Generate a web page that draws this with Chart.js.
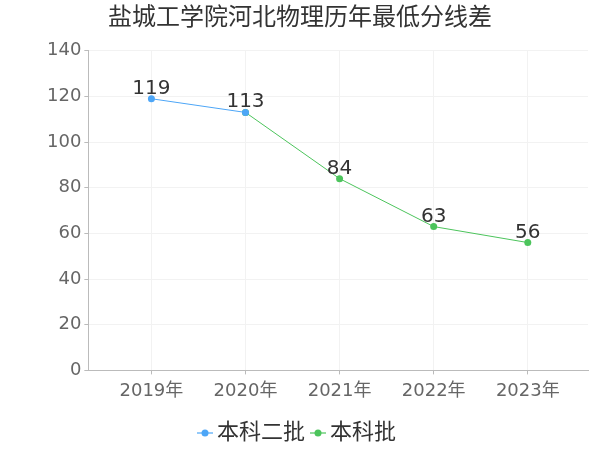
<!DOCTYPE html>
<html>
<head>
<meta charset="utf-8">
<script src="https://cdn.jsdelivr.net/npm/chart.js@4"></script>
<style>
  body { margin: 0; background: #fff; }
</style>
</head>
<body>
<canvas id="chart" width="600" height="450"></canvas>
<script>
const years = [2019, 2020, 2021, 2022, 2023];
const yearLabels = ["2019年", "2020年", "2021年", "2022年", "2023年"];
const batchTwo = [119, 113, null, null, null];   // 本科二批
const batchOne = [null, 113, 84, 63, 56];        // 本科批
const yTicks = [0, 20, 40, 60, 80, 100, 120, 140];

const blue = "#4da6f7";
const green = "#4cc45c";
const font = "'DejaVu Sans', 'Noto Sans CJK SC', sans-serif";

Chart.defaults.font.family = font;
Chart.defaults.color = "#666";

// legend marker: short line with a dot on it
function marker(color) {
  const c = document.createElement("canvas");
  c.width = 16;
  c.height = 8;
  const g = c.getContext("2d");
  g.strokeStyle = color;
  g.lineWidth = 2;
  g.globalAlpha = 0.6;
  g.beginPath();
  g.moveTo(0, 4);
  g.lineTo(16, 4);
  g.stroke();
  g.globalAlpha = 1;
  g.fillStyle = color;
  g.beginPath();
  g.arc(8, 4, 3.5, 0, Math.PI * 2);
  g.fill();
  return c;
}

const toPoints = (vals) =>
  vals.map((v, i) => ({ x: years[i], y: v })).filter((p) => p.y !== null);

// value labels above the points
const valueLabels = {
  id: "valueLabels",
  afterDatasetsDraw(chart) {
    const ctx = chart.ctx;
    const done = new Set();
    ctx.save();
    ctx.font = "20px " + font;
    ctx.fillStyle = "#333";
    ctx.textAlign = "center";
    ctx.textBaseline = "alphabetic";
    chart.data.datasets.forEach((ds, di) => {
      chart.getDatasetMeta(di).data.forEach((pt, i) => {
        const key = ds.data[i].x + ":" + ds.data[i].y;
        if (done.has(key)) return;
        done.add(key);
        ctx.fillText(ds.data[i].y, pt.x, pt.y - 5);
      });
    });
    ctx.restore();
  },
};

new Chart(document.getElementById("chart"), {
  type: "line",
  data: {
    datasets: [
      {
        label: "本科二批",
        data: toPoints(batchTwo),
        borderColor: blue,
        backgroundColor: blue,
        borderWidth: 1,
        pointRadius: 3.5,
        pointHoverRadius: 3.5,
        pointBorderWidth: 0,
        legendMarker: marker(blue),
      },
      {
        label: "本科批",
        data: toPoints(batchOne),
        borderColor: green,
        backgroundColor: green,
        borderWidth: 1,
        pointRadius: 3.5,
        pointHoverRadius: 3.5,
        pointBorderWidth: 0,
        legendMarker: marker(green),
      },
    ],
  },
  plugins: [valueLabels],
  options: {
    responsive: false,
    animation: false,
    layout: {
      padding: { left: 12, right: 12, top: 0, bottom: -4 },
    },
    plugins: {
      title: {
        display: true,
        text: "盐城工学院河北物理历年最低分线差",
        color: "#333",
        font: { size: 24, weight: "normal" },
        padding: { top: 4, bottom: 18 },
      },
      legend: {
        position: "bottom",
        labels: {
          usePointStyle: true,
          pointStyleWidth: 2,
          padding: 12,
          color: "#333",
          font: { size: 22 },
          generateLabels(chart) {
            return chart.data.datasets.map((ds, i) => ({
              text: ds.label,
              datasetIndex: i,
              pointStyle: ds.legendMarker,
              fontColor: "#333",
              lineWidth: 0,
              hidden: false,
            }));
          },
        },
      },
      tooltip: { enabled: false },
    },
    scales: {
      x: {
        type: "linear",
        min: 2018.33,
        max: 2023.64,
        afterBuildTicks(scale) {
          scale.ticks = years.map((y) => ({ value: y }));
        },
        afterFit(scale) {
          scale.height += 2;
        },
        ticks: {
          font: { size: 18 },
          color: "#666",
          padding: 6,
          callback: (v) => yearLabels[years.indexOf(v)],
        },
        grid: {
          color: "#f2f2f2",
          tickColor: "#bbb",
          tickLength: 4,
        },
        border: { color: "#bbb" },
      },
      y: {
        min: 0,
        max: 140,
        afterBuildTicks(scale) {
          scale.ticks = yTicks.map((v) => ({ value: v }));
        },
        afterFit(scale) {
          scale.width += 32;
        },
        ticks: {
          font: { size: 18 },
          color: "#666",
          padding: 3,
        },
        grid: {
          color: "#f2f2f2",
          tickColor: "#bbb",
          tickLength: 4,
        },
        border: { color: "#bbb" },
      },
    },
  },
});
</script>
</body>
</html>
